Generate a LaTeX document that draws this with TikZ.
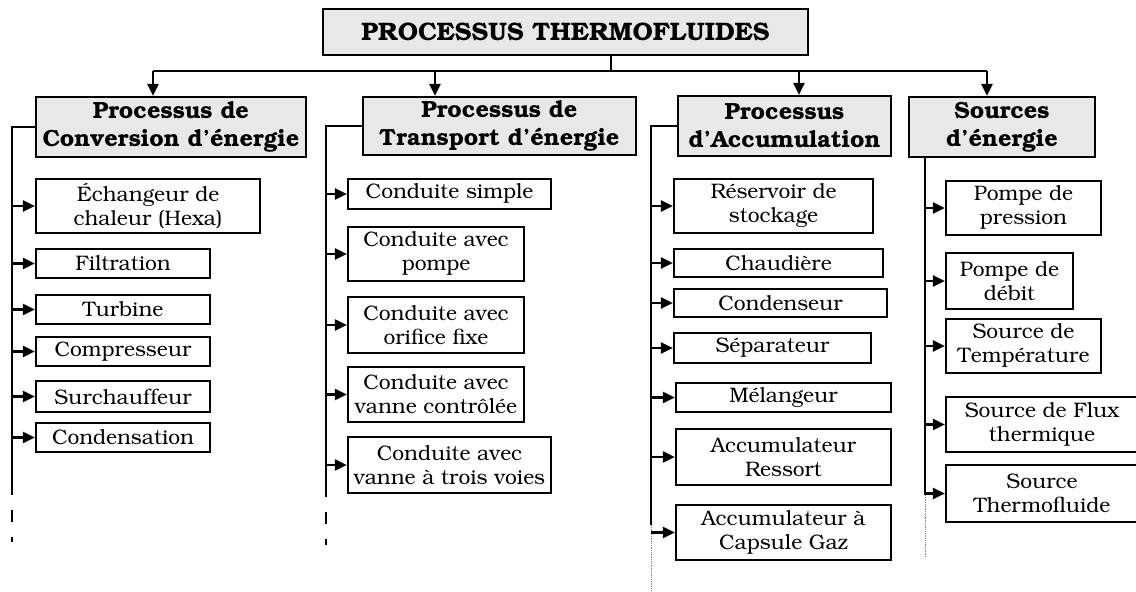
\documentclass[tikz,border=0pt]{standalone}
\usepackage[T1]{fontenc}
\usepackage{bookman}
\usetikzlibrary{arrows.meta}

\tikzset{
  kopf/.style={draw, line width=2.2pt, fill=black!9, inner sep=0pt,
    font=\bfseries\fontsize{25.3}{29}\selectfont},
  gruppe/.style={draw, line width=2.2pt, fill=black!9, align=center, inner sep=0pt,
    font=\bfseries\fontsize{23.4}{28}\selectfont},
  element/.style={draw, line width=2.2pt, fill=white, align=center, inner sep=0pt,
    font=\fontsize{21}{24}\selectfont},
  linie/.style={line width=2.2pt},
  pfeil/.style={line width=2.2pt, -{Triangle[length=12pt,width=11pt]}},
  rest/.style={line width=2.2pt, dash pattern=on 12pt off 15pt},
  spur/.style={line width=0.8pt, black!50, densely dotted}
}

\begin{document}
\begin{tikzpicture}[x=1pt,y=-1pt]
	\useasboundingbox (0,0) rectangle (1136,592);
	
	% Hauptknoten
	\node[kopf, minimum width=485pt, minimum height=46pt] (pt) at (565.5,32) {PROCESSUS THERMOFLUIDES};
	
	% Gruppen
	\node[gruppe, minimum width=270pt, minimum height=60pt] (conv) at (171,127) {Processus de\\Conversion d'énergie};
	\node[gruppe, minimum width=273pt, minimum height=58pt] (trans) at (499.5,126) {Processus de\\Transport d'énergie};
	\node[gruppe, minimum width=213pt, minimum height=60pt] (accu) at (784.5,126) {Processus\\d'Accumulation};
	\node[gruppe, minimum width=186pt, minimum height=60pt] (quel) at (1002,127) {Sources\\d'énergie};
	
	% Verteilung
	\coordinate (b1) at (153,71);
	\coordinate (b2) at (435,71);
	\coordinate (b3) at (799,71);
	\coordinate (b4) at (987,71);
	\coordinate (s) at (611,71);
	\draw[linie] (b1) -- (b4);
	\draw[linie] (pt.south -| s) -- (s);
	\foreach \b/\z in {b1/conv, b2/trans, b3/accu, b4/quel}
		\draw[pfeil] (\b) -- (\b |- \z.north);
	
	% Spalte 1: Conversion
	\node[element, minimum width=224pt, minimum height=54pt] (ech) at (148,206) {Échangeur de\\chaleur (Hexa)};
	\node[element, minimum width=174pt, minimum height=29pt] (filt) at (123,263.5) {Filtration};
	\node[element, minimum width=174pt, minimum height=29pt] (turb) at (123,309.5) {Turbine};
	\node[element, minimum width=174pt, minimum height=29pt] (comp) at (123,351.5) {Compresseur};
	\node[element, minimum width=174pt, minimum height=31pt] (surch) at (123,396.5) {Surchauffeur};
	\node[element, minimum width=174pt, minimum height=29pt] (cond) at (123,437.5) {Condensation};
	\coordinate (t1) at (12,483);
	\coordinate (t1e) at (12,542);
	\draw[linie] (conv.west) -| (t1);
	\draw[rest] (t1) -- (t1e);
	\foreach \z in {ech,filt,turb,comp,surch,cond}
		\draw[pfeil] (t1 |- \z.west) -- (\z.west);
	
	% Spalte 2: Transport
	\node[element, minimum width=203pt, minimum height=30pt] (cs) at (449.5,194) {Conduite simple};
	\node[element, minimum width=176pt, minimum height=54pt] (cp) at (436,254) {Conduite avec\\pompe};
	\node[element, minimum width=176pt, minimum height=56pt] (co) at (436,325) {Conduite avec\\orifice fixe};
	\node[element, minimum width=176pt, minimum height=55pt] (cv) at (436,394.5) {Conduite avec\\vanne contrôlée};
	\node[element, minimum width=203pt, minimum height=56pt] (c3) at (449.5,465) {Conduite avec\\vanne à trois voies};
	\coordinate (t2) at (326,485);
	\coordinate (t2e) at (326,545);
	\draw[linie] (trans.west) -| (t2);
	\draw[rest] (t2) -- (t2e);
	\foreach \z in {cs,cp,co,cv,c3}
		\draw[pfeil] (t2 |- \z.west) -- (\z.west);
	
	% Spalte 3: Accumulation
	\node[element, minimum width=199pt, minimum height=54pt] (res) at (773.5,206) {Réservoir de\\stockage};
	\node[element, minimum width=209pt, minimum height=28pt] (chau) at (778.5,263) {Chaudière};
	\node[element, minimum width=213pt, minimum height=28pt] (cden) at (780.5,303) {Condenseur};
	\node[element, minimum width=197pt, minimum height=30pt] (sep) at (772.5,348) {Séparateur};
	\node[element, minimum width=215pt, minimum height=29pt] (mel) at (783.5,397.5) {Mélangeur};
	\node[element, minimum width=215pt, minimum height=56pt] (acr) at (783.5,457) {Accumulateur\\Ressort};
	\node[element, minimum width=215pt, minimum height=55pt] (acg) at (783.5,532.5) {Accumulateur à\\Capsule Gaz};
	\coordinate (t3) at (651,525);
	\coordinate (t3e) at (651,592);
	\draw[linie] (accu.west) -| (t3);
	\draw[spur] (t3) -- (t3e);
	\foreach \z in {res,chau,cden,sep,mel,acr,acg}
		\draw[pfeil] (t3 |- \z.west) -- (\z.west);
	
	% Spalte 4: Quellen
	\node[element, minimum width=155pt, minimum height=54pt] (pp) at (1023.5,208) {Pompe de\\pression};
	\node[element, minimum width=127pt, minimum height=56pt] (pd) at (1009.5,281) {Pompe de\\débit};
	\node[element, minimum width=155pt, minimum height=54pt] (st) at (1023.5,346) {Source de\\Température};
	\node[element, minimum width=192pt, minimum height=55pt] (sf) at (1042,424.5) {Source de Flux\\thermique};
	\node[element, minimum width=192pt, minimum height=57pt] (sth) at (1042,493.5) {Source\\Thermofluide};
	\coordinate (t4) at (925,495);
	\coordinate (t4e) at (925,557);
	\draw[linie] (quel.south -| t4) -- (t4);
	\draw[spur] (t4) -- (t4e);
	\foreach \z in {pp,pd,st,sf,sth}
		\draw[pfeil] (t4 |- \z.west) -- (\z.west);
	
\end{tikzpicture}
\end{document}
